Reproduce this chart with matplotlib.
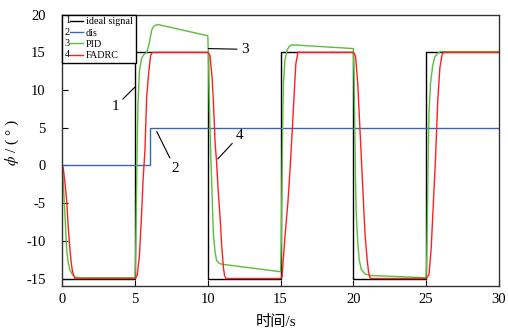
import matplotlib
matplotlib.use('Agg')
import matplotlib.pyplot as plt
from matplotlib.legend_handler import HandlerBase
from matplotlib.lines import Line2D
from matplotlib.text import Text

# ideal square-wave reference
t_ideal = [0, 5, 5, 10, 10, 15, 15, 20, 20, 25, 25, 30]
v_ideal = [-15, -15, 15, 15, -15, -15, 15, 15, -15, -15, 15, 15]

# disturbance
t_dis = [0, 6, 6, 30]
v_dis = [0, 0, 5, 5]

# PID response
t_pid = [0, 0.07, 0.19, 0.3, 0.4, 0.53, 0.7, 0.87, 1.2, 5.0,
         5.05, 5.1, 5.15, 5.2, 5.3, 5.45, 5.6, 5.8, 5.95, 6.05, 6.15, 6.3, 6.55, 10.0,
         10.05, 10.1, 10.2, 10.27, 10.38, 10.5, 10.6, 10.8, 10.96, 15.0,
         15.05, 15.1, 15.15, 15.2, 15.3, 15.45, 15.6, 15.8, 20.0,
         20.05, 20.1, 20.15, 20.2, 20.3, 20.4, 20.55, 20.8, 21.2, 25.0,
         25.05, 25.1, 25.15, 25.2, 25.3, 25.45, 25.6, 25.8, 26.0, 30.0]
v_pid = [0, -2.4, -6.8, -11.2, -12.8, -13.9, -14.5, -14.8, -14.9, -14.9,
         -11, -4, 3, 8, 12.5, 14.2, 14.7, 15.0, 16.0, 17.0, 18.0, 18.5, 18.7, 17.2,
         14, 8.7, 1.5, -2.4, -9.0, -11.5, -12.6, -13.0, -13.1, -14.1,
         -10, -2, 6, 11, 14, 15.3, 15.8, 16.0, 15.5,
         12, 5, -2, -6.5, -10, -12.5, -13.8, -14.4, -14.6, -14.9,
         -12, -5, 2, 7, 10.8, 13.2, 14.4, 14.9, 15.1, 15.1]

# FADRC response
t_fadrc = [0, 0.07, 0.19, 0.3, 0.41, 0.53, 0.62, 0.69, 0.78, 0.87, 5.0,
           5.15, 5.3, 5.45, 5.55, 5.68, 5.8, 5.95, 6.07, 6.2, 10.0,
           10.15, 10.3, 10.38, 10.5, 10.6, 10.72, 10.84, 10.95, 11.07, 11.15, 11.25, 15.0,
           15.1, 15.3, 15.5, 15.65, 15.8, 15.95, 16.05, 16.2, 20.0,
           20.15, 20.3, 20.45, 20.6, 20.69, 20.8, 20.95, 21.05, 21.15, 21.25, 25.0,
           25.2, 25.35, 25.5, 25.65, 25.8, 25.95, 26.1, 26.2, 30.0]
v_fadrc = [0, -0.4, -2.4, -4.6, -8.2, -11.2, -13.0, -13.9, -14.6, -15.0, -15.0,
           -14.6, -12, -6.5, -2, 2, 9.1, 12.5, 14.6, 15.0, 15.0,
           14.6, 11.5, 8.7, 3.0, 0.5, -3.5, -6.8, -10.5, -13.5, -14.6, -15.0, -15.0,
           -14.8, -9.5, -5, -0.6, 4.5, 10, 13.5, 15.0, 15.0,
           14.5, 11, 5, -1, -4.6, -9, -12.5, -14.2, -14.9, -15.0, -15.0,
           -14.5, -11, -5, 1, 8.5, 13, 14.7, 15.0, 15.0]

labels = ['ideal signal', 'dis', 'PID', 'FADRC']
colors = ['#000000', '#3a66b0', '#5cbd3c', '#ff1f1f']

plt.rcParams['font.family'] = ['Liberation Serif', 'Noto Sans CJK SC', 'DejaVu Sans']
plt.rcParams['axes.unicode_minus'] = False
plt.rcParams['mathtext.fontset'] = 'stix'


class NumberedHandler(HandlerBase):
    def __init__(self, num):
        super().__init__()
        self.num = num

    def create_artists(self, legend, orig_handle, xdescent, ydescent,
                       width, height, fontsize, trans):
        y = height / 2 - ydescent
        txt = Text(-xdescent, y, self.num, fontsize=fontsize, ha='left', va='center')
        txt.set_transform(trans)
        ln = Line2D([-xdescent + width * 0.28, -xdescent + width], [y, y],
                    color=orig_handle.get_color(), lw=1.0)
        ln.set_transform(trans)
        return [txt, ln]


fig = plt.figure(figsize=(5.08, 3.33), dpi=100)
ax = fig.add_axes([0.1226, 0.141, 0.8594, 0.815])

series = [(t_ideal, v_ideal), (t_dis, v_dis), (t_pid, v_pid), (t_fadrc, v_fadrc)]
handles = []
for (t, v), lab, c in zip(series, labels, colors):
    h, = ax.plot(t, v, color=c, lw=1.0, label=lab)
    handles.append(h)

ax.set_xlim(0, 30)
ax.set_ylim(-16, 20)
ax.set_xticks([0, 5, 10, 15, 20, 25, 30])
ax.set_yticks([-15, -10, -5, 0, 5, 10, 15, 20])
ax.tick_params(direction='in', length=4, width=0.8, labelsize=10.5, top=False, right=False)
ax.tick_params(axis='y', pad=12)
ax.tick_params(axis='x', pad=5)
for s in ax.spines.values():
    s.set_color('#333333')
    s.set_linewidth(1.0)

ax.set_xlabel('时间/s', fontsize=11)
ax.xaxis.set_label_coords(0.49, -0.105)
ax.set_ylabel(r'$\phi$ / ( ° )', fontsize=11)
ax.yaxis.set_label_coords(-0.095, 0.53)

leg = ax.legend(handles, labels, loc='upper left', borderaxespad=0, fontsize=7.3,
                handlelength=1.8, handletextpad=0.3, labelspacing=0.22, borderpad=0.25,
                fancybox=False, framealpha=1,
                handler_map={h: NumberedHandler(str(i + 1)) for i, h in enumerate(handles)})
leg.get_frame().set_edgecolor('#000000')
leg.get_frame().set_linewidth(1.0)

arrow = dict(arrowstyle='-', lw=0.8, color='black', shrinkA=1, shrinkB=0)
ax.annotate('1', xy=(5.0, 10.4), xytext=(3.63, 7.8), fontsize=11, ha='center', va='center', arrowprops=arrow)
ax.annotate('2', xy=(6.49, 4.5), xytext=(7.75, -0.4), fontsize=11, ha='center', va='center', arrowprops=arrow)
ax.annotate('3', xy=(10.04, 15.5), xytext=(12.55, 15.4), fontsize=11, ha='center', va='center', arrowprops=arrow)
ax.annotate('4', xy=(10.68, 0.85), xytext=(12.2, 4.0), fontsize=11, ha='center', va='center', arrowprops=arrow)

fig.savefig('out.png', dpi=100)
